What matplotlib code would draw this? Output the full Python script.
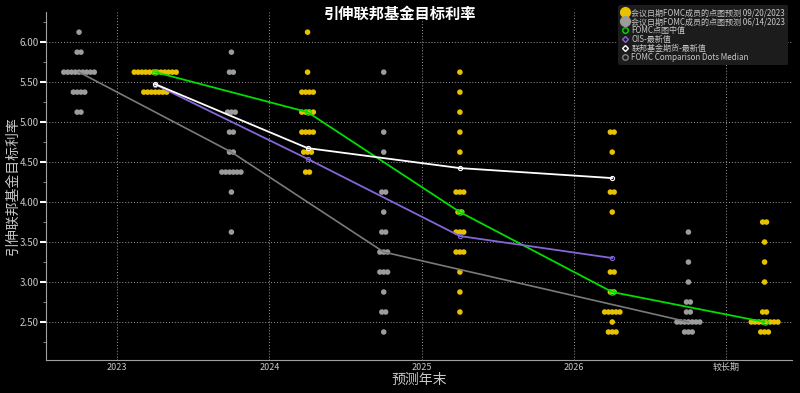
import numpy as np
import matplotlib.pyplot as plt
from matplotlib.lines import Line2D

plt.rcParams['font.family'] = ['Noto Sans CJK SC', 'DejaVu Sans']

# horizon labels
horizons = ['2023', '2024', '2025', '2026', '较长期']

# Sep 20, 2023 dot plot (rate -> number of dots), one list per horizon
sep_rates = [
    [5.625, 5.375],
    [6.125, 5.625, 5.375, 5.125, 4.875, 4.625, 4.375],
    [5.625, 5.375, 5.125, 4.875, 4.625, 4.125, 3.875, 3.625, 3.375, 3.125, 2.875, 2.625],
    [4.875, 4.625, 4.125, 3.875, 3.125, 2.875, 2.625, 2.5, 2.375],
    [3.75, 3.5, 3.25, 3.0, 2.625, 2.5, 2.375],
]
sep_counts = [
    [12, 7],
    [1, 1, 4, 4, 4, 3, 2],
    [1, 1, 1, 1, 1, 3, 2, 3, 3, 1, 1, 1],
    [2, 1, 2, 1, 2, 2, 5, 1, 3],
    [2, 1, 1, 1, 2, 8, 3],
]

# Jun 14, 2023 dot plot (no 2026 horizon)
jun_idx = [0, 1, 2, 4]
jun_rates = [
    [6.125, 5.875, 5.625, 5.375, 5.125],
    [5.875, 5.625, 5.125, 4.875, 4.625, 4.375, 4.125, 3.625],
    [5.625, 4.875, 4.625, 4.125, 3.875, 3.625, 3.375, 3.125, 2.875, 2.625, 2.375],
    [3.625, 3.25, 3.0, 2.75, 2.625, 2.5, 2.375],
]
jun_counts = [
    [1, 2, 9, 4, 2],
    [1, 2, 3, 2, 2, 6, 1, 1],
    [1, 1, 1, 2, 1, 2, 3, 3, 1, 2, 1],
    [1, 1, 1, 2, 2, 7, 3],
]

sep_median = [5.625, 5.125, 3.875, 2.875, 2.5]
jun_median = [5.625, 4.625, 3.375, 2.5]
ois_latest = [5.47, 4.54, 3.575, 3.30]
futures_latest = [5.475, 4.675, 4.425, 4.30]

bg = 'black'
txt = '#c8c8c8'
yellow = '#e8c200'
graydot = '#9c9c9c'
green = '#00dd00'
purple = '#8466d8'

fig = plt.figure(figsize=(8, 3.93), dpi=100, facecolor=bg)
ax = fig.add_axes([0.0575, 0.084, 0.9325, 0.885])
ax.set_facecolor(bg)

step = 0.025
off = 0.25


def draw_dots(xc, rates, counts, color):
    for r, n in zip(rates, counts):
        xs = xc + (np.arange(n) - (n - 1) / 2) * step
        ax.scatter(xs, [r] * n, s=16, color=color, edgecolors='none', zorder=3)


for i, (rates, counts) in enumerate(zip(jun_rates, jun_counts)):
    draw_dots(jun_idx[i] - off, rates, counts, graydot)
for i, (rates, counts) in enumerate(zip(sep_rates, sep_counts)):
    draw_dots(i + off, rates, counts, yellow)

x_sep = np.arange(len(sep_median)) + off
x_jun = np.array(jun_idx) - off
x_mkt = np.arange(len(ois_latest)) + off

ax.plot(x_jun, jun_median, color='#7a7a7a', lw=1.2, zorder=4)
ax.plot(x_sep, sep_median, color=green, lw=1.3, zorder=4,
        marker='o', ms=4, mfc='none', mec=green, mew=0.8)
ax.plot(x_mkt, ois_latest, color=purple, lw=1.3, zorder=4,
        marker='o', ms=3, mfc='none', mec=purple, mew=0.8)
ax.plot(x_mkt, futures_latest, color='white', lw=1.3, zorder=5,
        marker='o', ms=3, mfc='none', mec='white', mew=0.8)

ax.set_xlim(-0.467, 4.43)
ax.set_ylim(2.025, 6.375)
ax.set_xticks(range(len(horizons)))
ax.set_xticklabels(horizons, fontsize=6.5, color=txt)
ax.set_yticks(np.arange(2.5, 6.01, 0.5))
ax.set_yticklabels(['%.2f' % v for v in np.arange(2.5, 6.01, 0.5)], fontsize=7, color=txt)
ax.set_yticks(np.arange(2.25, 6.3, 0.25), minor=True)
ax.tick_params(axis='x', length=0, pad=2)
ax.tick_params(axis='y', which='major', length=4, width=1.5, color='white', pad=1)
ax.tick_params(axis='y', which='minor', length=2, width=0.6, color='#a0a0a0')
ax.grid(True, which='major', color='#9a9a9a', lw=0.7, linestyle=(0, (1, 2)))
for s in ['top', 'right']:
    ax.spines[s].set_visible(False)
for s in ['left', 'bottom']:
    ax.spines[s].set_color('#a0a0a0')

ax.set_xlabel('预测年末', fontsize=10, color=txt, labelpad=1)
ax.set_ylabel('引伸联邦基金目标利率', fontsize=10, color=txt, labelpad=0)
fig.text(0.5, 0.965, '引伸联邦基金目标利率', ha='center', va='center',
         fontsize=11, fontweight='bold', color='white')

handles = [
    Line2D([], [], ls='none', marker='o', ms=7, color=yellow),
    Line2D([], [], ls='none', marker='o', ms=7, color=graydot),
    Line2D([], [], ls='none', marker='o', ms=4, mfc='none', mec=green, mew=1),
    Line2D([], [], ls='none', marker='D', ms=3, mfc='none', mec=purple, mew=1),
    Line2D([], [], ls='none', marker='D', ms=3, mfc='none', mec='white', mew=1),
    Line2D([], [], ls='none', marker='o', ms=4, mfc='none', mec='#808080', mew=1),
]
labels = [
    '会议日期FOMC成员的点图预测 09/20/2023',
    '会议日期FOMC成员的点图预测 06/14/2023',
    'FOMC点图中值',
    'OIS-最新值',
    '联邦基金期货-最新值',
    'FOMC Comparison Dots Median',
]
leg = ax.legend(handles, labels, loc='upper right', bbox_to_anchor=(0.995, 1.02),
                fontsize=5.8, frameon=True, facecolor='#1c1c1c', edgecolor='none',
                framealpha=1, labelspacing=0.0, handletextpad=0.3,
                borderpad=0.35, handlelength=1.0, borderaxespad=0.0)
for t in leg.get_texts():
    t.set_color(txt)
leg.set_zorder(10)

fig.savefig('out.png', dpi=100, facecolor=bg)
